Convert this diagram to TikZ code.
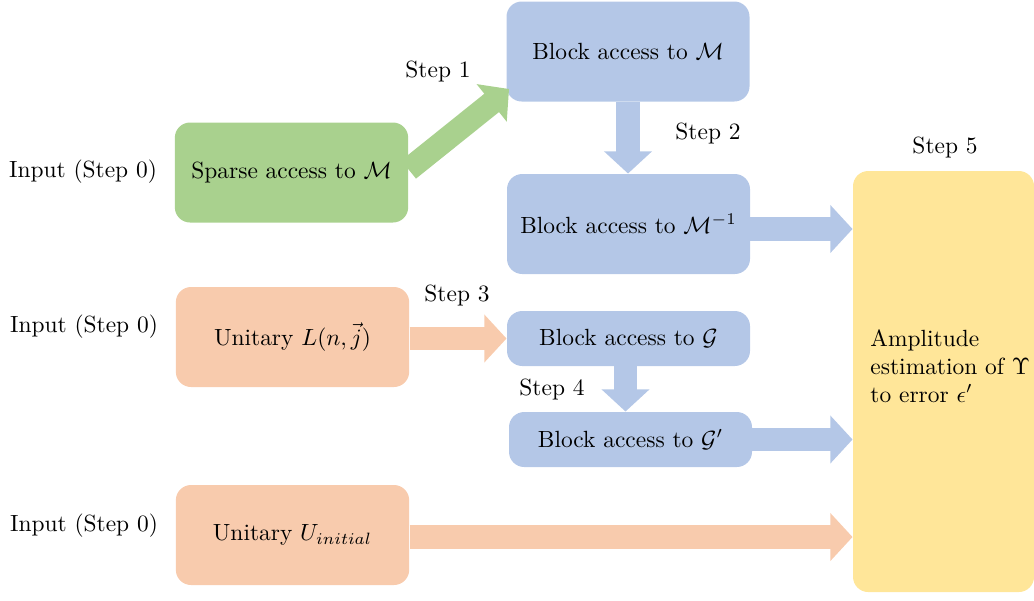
\documentclass[tikz,border=0pt]{standalone}
\usepackage{amsmath,amssymb}
\usetikzlibrary{arrows.meta,calc}
\definecolor{blueA}{HTML}{B4C7E7}
\definecolor{greenA}{HTML}{A9D18E}
\definecolor{orangeA}{HTML}{F8CBAD}
\definecolor{yellowA}{HTML}{FFE699}
\begin{document}
\begin{tikzpicture}[x=0.015cm, y=-0.015cm,
	box/.style={rounded corners=6.5pt, inner sep=0pt, align=center},
	wide/.style={box, minimum width=3.5cm, minimum height=1.5cm},
	blk/.style={box, fill=blueA, minimum width=3.645cm, minimum height=1.5cm},
	thin/.style={box, fill=blueA, minimum width=3.645cm, minimum height=0.825cm},
	flow/.style={line width=10pt, -{Triangle[width=20pt,length=9.5pt]}}]
	\useasboundingbox (0,0) rectangle (1034,600);
	\node[wide, fill=greenA] at (291.5,172.5) (sparse) {Sparse access to $\mathcal{M}$};
	\node[wide, fill=orangeA] at (292.5,337) (unitL) {Unitary $L(n,\vec{j})$};
	\node[wide, fill=orangeA] at (292.5,535) (unitU) {Unitary $U_{initial}$};
	\node[blk] at (628,51.5) (blockM) {Block access to $\mathcal{M}$};
	\node[blk] at (628.5,224) (blockMinv) {Block access to $\mathcal{M}^{-1}$};
	\node[thin] at (628.5,338.5) (blockG) {Block access to $\mathcal{G}$};
	\node[thin] at (630.5,439.5) (blockGp) {Block access to $\mathcal{G}'$};
	\node[box, fill=yellowA, minimum width=2.715cm, minimum height=6.315cm] at (943.5,381.5) (amp) {};
	\node[anchor=west, align=left, inner sep=0pt] at (870,366) (amptext) {Amplitude\\estimation of $\Upsilon$\\to error $\epsilon'$};
	\node at (83,172) (in1) {Input (Step 0)};
	\node at (84,327) (in2) {Input (Step 0)};
	\node at (84,526) (in3) {Input (Step 0)};
	\node at (438,72) (s1) {Step 1};
	\node at (708,134) (s2) {Step 2};
	\node at (457,295) (s3) {Step 3};
	\node at (552,389) (s4) {Step 4};
	\node at (945,148) (s5) {Step 5};
	\coordinate (tip1) at ($(blockM.south west)+(3,-13)$);
	\draw[flow, greenA] ($(sparse.east)+(0,-3)$) -- (tip1);
	\draw[flow, blueA] (blockM.south) -- (blockM.south |- blockMinv.north);
	\draw[flow, blueA] ($(blockMinv.east)+(0,5)$) -- ($(blockMinv.east -| amp.west)+(0,5)$);
	\draw[flow, orangeA] (unitL.east |- blockG) -- (blockG.west);
	\draw[flow, blueA] ($(blockG.south)+(-3,0)$) -- ($(blockG.south |- blockGp.north)+(-3,0)$);
	\draw[flow, blueA] (blockGp.east) -- (blockGp.east -| amp.west);
	\draw[flow, orangeA] ($(unitU.east)+(0,2)$) -- ($(unitU.east -| amp.west)+(0,2)$);
\end{tikzpicture}
\end{document}
